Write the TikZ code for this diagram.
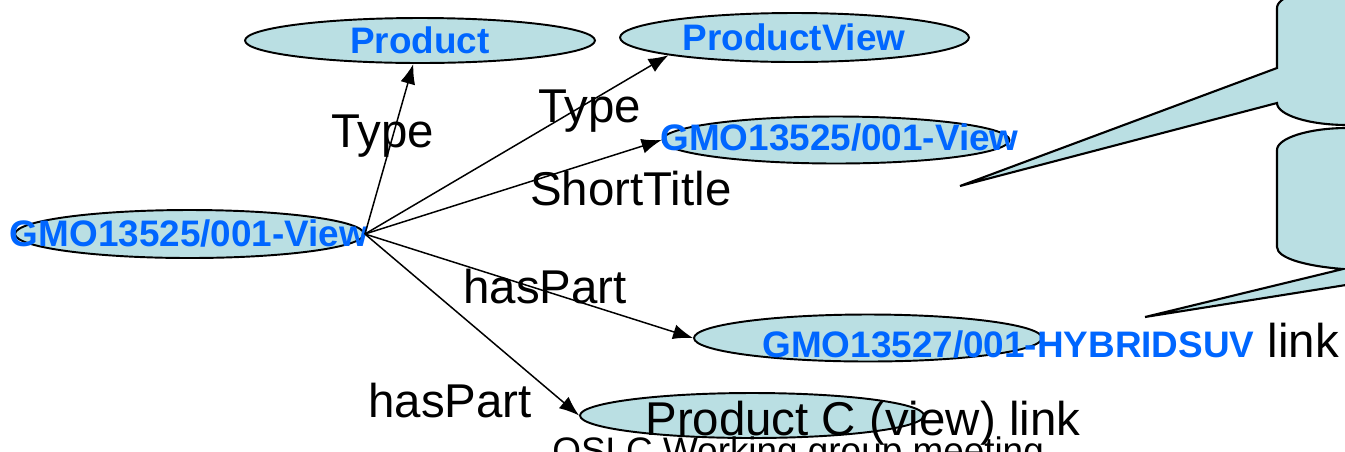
\documentclass[tikz,border=0pt]{standalone}
\usepackage{fontspec}
\setmainfont{Liberation Sans}
\usetikzlibrary{shapes.geometric,arrows.meta}
\definecolor{bubble}{RGB}{186,223,227}
\definecolor{linkblue}{RGB}{0,102,255}
\begin{document}
\begin{tikzpicture}[x=0.02cm,y=-0.02cm,
    res/.style={ellipse,draw,fill=bubble,line width=1.1pt,inner sep=0pt},
    uri/.style={text=linkblue,font=\fontsize{21}{25}\selectfont\bfseries,inner sep=0pt,anchor=base},
    prop/.style={font=\fontsize{27}{32}\selectfont,inner sep=0pt,anchor=base west},
    rel/.style={-{Latex[length=0.4cm,width=0.3cm]},line width=0.85pt}]
  \useasboundingbox (0,0) rectangle (1345,451);
  \clip (0,0) rectangle (1345,451);
  % callouts, cut by the right edge
  \filldraw[fill=bubble,line width=1.2pt] (960,186) -- (1277,103)
    .. controls (1277,115) and (1309,125) .. (1347,125) -- (1400,125) -- (1400,-14) -- (1347,-14)
    .. controls (1309,-14) and (1277,-4) .. (1277,8) -- (1277,68) -- cycle;
  \filldraw[fill=bubble,line width=1.2pt] (1145,317) -- (1343,269)
    .. controls (1305,266) and (1277,258) .. (1277,247) -- (1277,150)
    .. controls (1277,138) and (1309,128) .. (1347,128) -- (1460,128) -- (1460,270) -- (1440,270) -- cycle;
  % resources
  \node[res,minimum width=6.98cm,minimum height=0.96cm] (src) at (189.5,234) {};
  \node[res,minimum width=7cm,minimum height=0.9cm] (prod) at (420,40.5) {};
  \node[res,minimum width=6.98cm,minimum height=0.98cm] (pview) at (794.5,37.5) {};
  \node[res,minimum width=6.94cm,minimum height=0.94cm] (title) at (836,140) {};
  \node[res,minimum width=6.96cm,minimum height=0.94cm] (hybrid) at (868,338) {};
  \node[res,minimum width=6.88cm,minimum height=0.9cm] (prodc) at (752,415.5) {};
  \node[uri] (tsrc) at (189,246) {GMO13525/001-View};
  \node[uri] (tprod) at (420,53) {Product};
  \node[uri] (tpview) at (794,50) {ProductView};
  \node[uri] (ttitle) at (839.5,150) {GMO13525/001-View};
  \node[prop] (thybrid) at (762,357) {{\color{linkblue}\fontsize{21}{25}\selectfont\bfseries GMO13527/001-HYBRIDSUV} link};
  \node[prop] (tprodc) at (645,435) {Product C (view) link};
  \node[prop,font=\fontsize{21}{25}\selectfont] (footer) at (552,463) {OSLC Working group meeting};
  % properties
  \draw[rel] (src.east) -- (prod);
  \draw[rel] (src.east) -- (pview.188);
  \draw[rel] (src.east) -- (title.west);
  \draw[rel] (src.east) -- (hybrid.west);
  \draw[rel] (src.east) -- (prodc.west);
  \node[prop] (ltype) at (331,147) {Type};
  \node[prop] (ltypev) at (538,122) {Type};
  \node[prop] (ltitle) at (530,205) {ShortTitle};
  \node[prop] (lpart) at (463,303) {hasPart};
  \node[prop] (lpartc) at (368,417) {hasPart};
\end{tikzpicture}
\end{document}
